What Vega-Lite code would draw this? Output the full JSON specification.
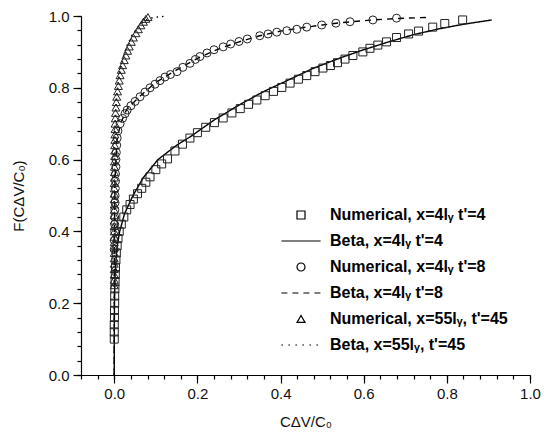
{
 "$schema": "https://vega.github.io/schema/vega-lite/v6.json",
 "width": 449, "height": 359,
 "autosize": "none",
 "padding": {"left": 81, "top": 16, "right": 14, "bottom": 64},
 "background": "white",
 "config": {
  "view": {"stroke": null},
  "font": "Liberation Sans",
  "axis": {"grid": false, "domainColor": "black", "tickColor": "black", "labelColor": "#111", "titleColor": "#111", "labelFont": "Liberation Sans", "labelFontSize": 15, "titleFont": "Liberation Sans", "titleFontSize": 15, "titleFontWeight": "normal", "labelFlush": false, "domainWidth": 1.2, "tickWidth": 1.2}
 },
 "data": {"values": [
  {"s":"b4","x":0,"y":0},{"s":"b4","x":0,"y":0.1},{"s":"b4","x":0.0005,"y":0.2},{"s":"b4","x":0.002,"y":0.28},{"s":"b4","x":0.006,"y":0.35},{"s":"b4","x":0.013,"y":0.4},{"s":"b4","x":0.025,"y":0.45},{"s":"b4","x":0.045,"y":0.5},{"s":"b4","x":0.07,"y":0.55},{"s":"b4","x":0.105,"y":0.6},{"s":"b4","x":0.15,"y":0.64},{"s":"b4","x":0.182,"y":0.663},{"s":"b4","x":0.24,"y":0.71},{"s":"b4","x":0.3,"y":0.752},{"s":"b4","x":0.36,"y":0.79},{"s":"b4","x":0.423,"y":0.824},{"s":"b4","x":0.48,"y":0.855},{"s":"b4","x":0.543,"y":0.883},{"s":"b4","x":0.6,"y":0.906},{"s":"b4","x":0.66,"y":0.928},{"s":"b4","x":0.72,"y":0.948},{"s":"b4","x":0.78,"y":0.964},{"s":"b4","x":0.84,"y":0.977},{"s":"b4","x":0.908,"y":0.989},
  {"s":"b8","x":0,"y":0},{"s":"b8","x":0.0005,"y":0.4},{"s":"b8","x":0.002,"y":0.55},{"s":"b8","x":0.006,"y":0.65},{"s":"b8","x":0.015,"y":0.7},{"s":"b8","x":0.03,"y":0.74},{"s":"b8","x":0.06,"y":0.775},{"s":"b8","x":0.1,"y":0.815},{"s":"b8","x":0.15,"y":0.85},{"s":"b8","x":0.2,"y":0.882},{"s":"b8","x":0.25,"y":0.908},{"s":"b8","x":0.3,"y":0.928},{"s":"b8","x":0.35,"y":0.945},{"s":"b8","x":0.4,"y":0.958},{"s":"b8","x":0.45,"y":0.967},{"s":"b8","x":0.5,"y":0.975},{"s":"b8","x":0.55,"y":0.982},{"s":"b8","x":0.6,"y":0.987},{"s":"b8","x":0.65,"y":0.991},{"s":"b8","x":0.7,"y":0.994},{"s":"b8","x":0.751,"y":0.996},
  {"s":"b45","x":0,"y":0},{"s":"b45","x":0,"y":0.3},{"s":"b45","x":0.0005,"y":0.6},{"s":"b45","x":0.002,"y":0.7},{"s":"b45","x":0.006,"y":0.78},{"s":"b45","x":0.012,"y":0.84},{"s":"b45","x":0.02,"y":0.88},{"s":"b45","x":0.03,"y":0.915},{"s":"b45","x":0.042,"y":0.945},{"s":"b45","x":0.055,"y":0.966},{"s":"b45","x":0.068,"y":0.982},{"s":"b45","x":0.08,"y":0.991},{"s":"b45","x":0.095,"y":0.996},{"s":"b45","x":0.12,"y":0.999},
  {"s":"n4","x":0,"y":0.1},{"s":"n4","x":0,"y":0.12},{"s":"n4","x":0,"y":0.14},{"s":"n4","x":0.0005,"y":0.16},{"s":"n4","x":0.0005,"y":0.18},{"s":"n4","x":0.001,"y":0.2},{"s":"n4","x":0.001,"y":0.22},{"s":"n4","x":0.0015,"y":0.24},{"s":"n4","x":0.002,"y":0.26},{"s":"n4","x":0.0025,"y":0.28},{"s":"n4","x":0.003,"y":0.3},{"s":"n4","x":0.004,"y":0.32},{"s":"n4","x":0.005,"y":0.34},{"s":"n4","x":0.007,"y":0.36},{"s":"n4","x":0.009,"y":0.38},{"s":"n4","x":0.012,"y":0.4},{"s":"n4","x":0.017,"y":0.42},{"s":"n4","x":0.023,"y":0.44},{"s":"n4","x":0.03,"y":0.46},{"s":"n4","x":0.038,"y":0.475},{"s":"n4","x":0.046,"y":0.49},{"s":"n4","x":0.056,"y":0.505},{"s":"n4","x":0.066,"y":0.52},{"s":"n4","x":0.076,"y":0.537},{"s":"n4","x":0.086,"y":0.552},{"s":"n4","x":0.1,"y":0.572},{"s":"n4","x":0.114,"y":0.588},{"s":"n4","x":0.128,"y":0.602},{"s":"n4","x":0.146,"y":0.624},{"s":"n4","x":0.164,"y":0.643},{"s":"n4","x":0.182,"y":0.66},{"s":"n4","x":0.2,"y":0.675},{"s":"n4","x":0.22,"y":0.69},{"s":"n4","x":0.241,"y":0.703},{"s":"n4","x":0.262,"y":0.716},{"s":"n4","x":0.283,"y":0.73},{"s":"n4","x":0.303,"y":0.742},{"s":"n4","x":0.323,"y":0.754},{"s":"n4","x":0.343,"y":0.766},{"s":"n4","x":0.363,"y":0.778},{"s":"n4","x":0.383,"y":0.79},{"s":"n4","x":0.403,"y":0.801},{"s":"n4","x":0.423,"y":0.813},{"s":"n4","x":0.443,"y":0.824},{"s":"n4","x":0.463,"y":0.834},{"s":"n4","x":0.483,"y":0.845},{"s":"n4","x":0.502,"y":0.855},{"s":"n4","x":0.52,"y":0.862},{"s":"n4","x":0.537,"y":0.87},{"s":"n4","x":0.555,"y":0.88},{"s":"n4","x":0.574,"y":0.89},{"s":"n4","x":0.598,"y":0.9},{"s":"n4","x":0.615,"y":0.91},{"s":"n4","x":0.634,"y":0.919},{"s":"n4","x":0.655,"y":0.928},{"s":"n4","x":0.679,"y":0.94},{"s":"n4","x":0.708,"y":0.95},{"s":"n4","x":0.732,"y":0.958},{"s":"n4","x":0.766,"y":0.969},{"s":"n4","x":0.795,"y":0.979},{"s":"n4","x":0.838,"y":0.989},
  {"s":"n8","x":0,"y":0.35},{"s":"n8","x":0,"y":0.375},{"s":"n8","x":0.001,"y":0.4},{"s":"n8","x":0.001,"y":0.42},{"s":"n8","x":0.001,"y":0.44},{"s":"n8","x":0.0015,"y":0.46},{"s":"n8","x":0.002,"y":0.48},{"s":"n8","x":0.002,"y":0.5},{"s":"n8","x":0.0025,"y":0.52},{"s":"n8","x":0.003,"y":0.54},{"s":"n8","x":0.003,"y":0.56},{"s":"n8","x":0.004,"y":0.58},{"s":"n8","x":0.004,"y":0.6},{"s":"n8","x":0.005,"y":0.62},{"s":"n8","x":0.006,"y":0.64},{"s":"n8","x":0.007,"y":0.66},{"s":"n8","x":0.009,"y":0.68},{"s":"n8","x":0.014,"y":0.7},{"s":"n8","x":0.02,"y":0.715},{"s":"n8","x":0.026,"y":0.728},{"s":"n8","x":0.031,"y":0.738},{"s":"n8","x":0.04,"y":0.75},{"s":"n8","x":0.05,"y":0.762},{"s":"n8","x":0.062,"y":0.775},{"s":"n8","x":0.074,"y":0.788},{"s":"n8","x":0.086,"y":0.8},{"s":"n8","x":0.098,"y":0.81},{"s":"n8","x":0.11,"y":0.82},{"s":"n8","x":0.122,"y":0.83},{"s":"n8","x":0.135,"y":0.837},{"s":"n8","x":0.151,"y":0.845},{"s":"n8","x":0.165,"y":0.857},{"s":"n8","x":0.182,"y":0.868},{"s":"n8","x":0.195,"y":0.879},{"s":"n8","x":0.206,"y":0.887},{"s":"n8","x":0.223,"y":0.897},{"s":"n8","x":0.24,"y":0.906},{"s":"n8","x":0.262,"y":0.914},{"s":"n8","x":0.28,"y":0.922},{"s":"n8","x":0.3,"y":0.929},{"s":"n8","x":0.32,"y":0.936},{"s":"n8","x":0.35,"y":0.945},{"s":"n8","x":0.37,"y":0.95},{"s":"n8","x":0.391,"y":0.955},{"s":"n8","x":0.415,"y":0.959},{"s":"n8","x":0.439,"y":0.963},{"s":"n8","x":0.463,"y":0.969},{"s":"n8","x":0.499,"y":0.975},{"s":"n8","x":0.533,"y":0.98},{"s":"n8","x":0.567,"y":0.984},{"s":"n8","x":0.622,"y":0.989},{"s":"n8","x":0.679,"y":0.994},
  {"s":"n45","x":0,"y":0.25},{"s":"n45","x":0,"y":0.265},{"s":"n45","x":0,"y":0.28},{"s":"n45","x":0,"y":0.295},{"s":"n45","x":0,"y":0.31},{"s":"n45","x":0,"y":0.325},{"s":"n45","x":0,"y":0.34},{"s":"n45","x":0,"y":0.355},{"s":"n45","x":0,"y":0.37},{"s":"n45","x":0,"y":0.385},{"s":"n45","x":0,"y":0.4},{"s":"n45","x":0,"y":0.415},{"s":"n45","x":0,"y":0.43},{"s":"n45","x":0,"y":0.445},{"s":"n45","x":0,"y":0.46},{"s":"n45","x":0,"y":0.475},{"s":"n45","x":0,"y":0.49},{"s":"n45","x":0,"y":0.505},{"s":"n45","x":0,"y":0.52},{"s":"n45","x":0,"y":0.535},{"s":"n45","x":0.0005,"y":0.55},{"s":"n45","x":0.0005,"y":0.565},{"s":"n45","x":0.0005,"y":0.58},{"s":"n45","x":0.0005,"y":0.595},{"s":"n45","x":0.001,"y":0.61},{"s":"n45","x":0.001,"y":0.625},{"s":"n45","x":0.001,"y":0.64},{"s":"n45","x":0.0015,"y":0.655},{"s":"n45","x":0.0015,"y":0.67},{"s":"n45","x":0.002,"y":0.685},{"s":"n45","x":0.002,"y":0.7},{"s":"n45","x":0.0025,"y":0.715},{"s":"n45","x":0.003,"y":0.73},{"s":"n45","x":0.004,"y":0.745},{"s":"n45","x":0.005,"y":0.76},{"s":"n45","x":0.006,"y":0.775},{"s":"n45","x":0.008,"y":0.79},{"s":"n45","x":0.01,"y":0.805},{"s":"n45","x":0.012,"y":0.82},{"s":"n45","x":0.014,"y":0.835},{"s":"n45","x":0.017,"y":0.85},{"s":"n45","x":0.02,"y":0.863},{"s":"n45","x":0.024,"y":0.877},{"s":"n45","x":0.028,"y":0.89},{"s":"n45","x":0.032,"y":0.903},{"s":"n45","x":0.036,"y":0.915},{"s":"n45","x":0.041,"y":0.928},{"s":"n45","x":0.046,"y":0.94},{"s":"n45","x":0.052,"y":0.952},{"s":"n45","x":0.058,"y":0.963},{"s":"n45","x":0.064,"y":0.974},{"s":"n45","x":0.07,"y":0.984},{"s":"n45","x":0.076,"y":0.992},{"s":"n45","x":0.081,"y":0.997}
 ]},
 "resolve": {"axis": {"x": "independent", "y": "independent"}},
 "layer": [
  {
   "transform": [{"filter": "indexof(datum.s, 'b') == 0"}],
   "mark": {"type": "line", "color": "black", "strokeWidth": 1.4},
   "encoding": {
    "x": {"field": "x", "type": "quantitative", "scale": {"domain": [-0.08, 1.0], "nice": false, "zero": false},
          "axis": {"orient": "bottom", "values": [0, 0.2, 0.4, 0.6, 0.8, 1.0], "format": ".1f", "tickSize": 8, "labelPadding": 3, "title": "CΔV/C₀", "titlePadding": 13}},
    "y": {"field": "y", "type": "quantitative", "scale": {"domain": [0, 1], "nice": false, "zero": false},
          "axis": {"orient": "left", "values": [0, 0.2, 0.4, 0.6, 0.8, 1.0], "format": ".1f", "tickSize": 8, "labelPadding": 4, "title": "F(CΔV/C₀)", "titlePadding": 22}},
    "strokeDash": {"field": "s", "type": "nominal", "scale": {"domain": ["b4", "b8", "b45"], "range": [[1, 0], [6, 5], [1.5, 4]]}, "legend": null},
    "order": {"field": "y", "type": "quantitative"}
   }
  },
  {
   "transform": [{"filter": "indexof(datum.s, 'n') == 0"}],
   "mark": {"type": "point", "filled": false, "color": "#222", "strokeWidth": 1, "size": 64, "opacity": 1},
   "encoding": {
    "x": {"field": "x", "type": "quantitative",
          "axis": {"orient": "bottom", "values": [-0.08,-0.04,0,0.04,0.08,0.12,0.16,0.2,0.24,0.28,0.32,0.36,0.4,0.44,0.48,0.52,0.56,0.6,0.64,0.68,0.72,0.76,0.8,0.84,0.88,0.92,0.96,1.0], "labels": false, "domain": false, "tickSize": 4, "title": null}},
    "y": {"field": "y", "type": "quantitative",
          "axis": {"orient": "left", "values": [0,0.04,0.08,0.12,0.16,0.2,0.24,0.28,0.32,0.36,0.4,0.44,0.48,0.52,0.56,0.6,0.64,0.68,0.72,0.76,0.8,0.84,0.88,0.92,0.96,1.0], "labels": false, "domain": false, "tickSize": 4, "title": null}},
    "shape": {"field": "s", "type": "nominal",
              "scale": {"domain": ["n4", "b4", "n8", "b8", "n45", "b45"],
                        "range": ["square", "M-4.9,0H4.9", "circle", "M-4.9,0H-3.4M-2.15,0H-0.65M0.6,0H2.1M3.35,0H4.85", "triangle-up", "M-4.9,0H-4.5M-3.15,0H-2.75M-1.4,0H-1M0.35,0H0.75M2.1,0H2.5M3.85,0H4.25"]},
              "legend": {"title": null, "orient": "bottom-right", "offset": 22, "labelFont": "Liberation Sans", "labelFontWeight": "bold", "labelFontSize": 16, "labelColor": "black", "symbolSize": 64, "symbolStrokeColor": "black", "symbolStrokeWidth": 1.2, "labelOffset": 21, "rowPadding": 10, "labelLimit": 300,
                         "labelExpr": "datum.label == 'n4' ? \"Numerical, x=4lᵧ t'=4\" : datum.label == 'b4' ? \"Beta, x=4lᵧ t'=4\" : datum.label == 'n8' ? \"Numerical, x=4lᵧ t'=8\" : datum.label == 'b8' ? \"Beta, x=4lᵧ t'=8\" : datum.label == 'n45' ? \"Numerical, x=55lᵧ, t'=45\" : \"Beta, x=55lᵧ, t'=45\""}}
   }
  }
 ]
}
